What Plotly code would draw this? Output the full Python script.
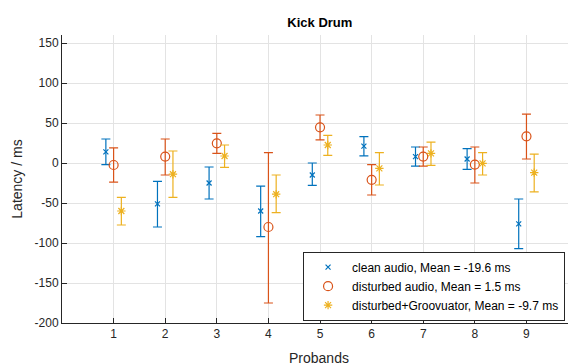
import plotly.graph_objects as go

probands = [1, 2, 3, 4, 5, 6, 7, 8, 9]

clean_mean = [14, -51, -25, -60, -15, 21, 8, 5, -76]
clean_hi = [30, -23, -5, -29, 0, 33, 20, 18, -45]
clean_lo = [-2, -80, -45, -92, -28, 9, -4, -8, -107]

dist_mean = [-2.5, 8, 24.6, -80, 44.6, -21, 8, -2, 33.3]
dist_hi = [19, 30, 37, 13, 60, -2, 20, 20, 61]
dist_lo = [-24, -15, 12, -175, 29, -40, -4, -25, 5]

groov_mean = [-60, -14, 8.75, -39, 22.5, -6.7, 12, -0.4, -12]
groov_hi = [-43, 15, 22.5, -15, 34.6, 13, 26, 13, 11]
groov_lo = [-77.5, -43, -5.4, -62, 9.6, -27.5, -3, -15, -36]

y_ticks = [-200, -150, -100, -50, 0, 50, 100, 150]
y_ticklabels = ["-200", "-150", "-100", "-50", "0", "50", "100", "150"]

names = ["clean audio, Mean = -19.6 ms",
         "disturbed audio, Mean = 1.5 ms",
         "disturbed+Groovuator, Mean = -9.7 ms"]

series = [
    (clean_mean, clean_hi, clean_lo, -0.15, "#0072BD", "x-thin-open", 5),
    (dist_mean, dist_hi, dist_lo, 0.0, "#D95319", "circle-open", 9),
    (groov_mean, groov_hi, groov_lo, 0.15, "#EDB120", "asterisk-open", 7),
]

fig = go.Figure()
for (m, hi, lo, off, col, sym, sz), nm in zip(series, names):
    fig.add_trace(go.Scatter(
        x=[p + off for p in probands], y=m, mode="markers", name=nm,
        marker=dict(symbol=sym, size=sz, color=col, line=dict(color=col, width=1.2)),
        error_y=dict(type="data", symmetric=False,
                     array=[h - v for h, v in zip(hi, m)],
                     arrayminus=[v - l for v, l in zip(m, lo)],
                     color=col, thickness=1.2, width=4.5),
    ))

axcol = "#262626"
fig.update_layout(
    width=568, height=355,
    margin=dict(l=54, r=0, t=27, b=40, autoexpand=False),
    paper_bgcolor="white", plot_bgcolor="white",
    font=dict(family="Liberation Sans, Arial, sans-serif", size=12, color=axcol),
    title=dict(text="<b>Kick Drum</b>", x=0.549, xanchor="center", y=0.958, yanchor="middle",
               font=dict(size=13, color="black")),
    xaxis=dict(range=[0, 9.96], tickvals=probands, ticks="inside", ticklen=5,
               tickcolor=axcol, showline=True, linecolor=axcol, linewidth=1,
               showgrid=True, gridcolor="#e3e3e3", zeroline=False, automargin=False),
    yaxis=dict(range=[-200, 160], tickvals=y_ticks, ticktext=y_ticklabels, ticks="inside",
               ticklen=5, tickcolor=axcol, showline=True, linecolor=axcol, linewidth=1,
               showgrid=True, gridcolor="#e3e3e3", zeroline=False, automargin=False,
               title=dict(text="Latency / ms", font=dict(size=14), standoff=8)),
    legend=dict(x=0.469, y=0.128, xanchor="left", yanchor="middle",
                bgcolor="white", bordercolor=axcol, borderwidth=1,
                font=dict(size=12, color="black"), tracegroupgap=0,
                itemsizing="trace", itemwidth=38),
    showlegend=True,
)
fig.add_annotation(text="Probands", xref="paper", yref="paper", x=0.5, y=-0.122,
                   xanchor="center", yanchor="middle", showarrow=False,
                   font=dict(size=14, color=axcol))
fig.write_html("out.html")
